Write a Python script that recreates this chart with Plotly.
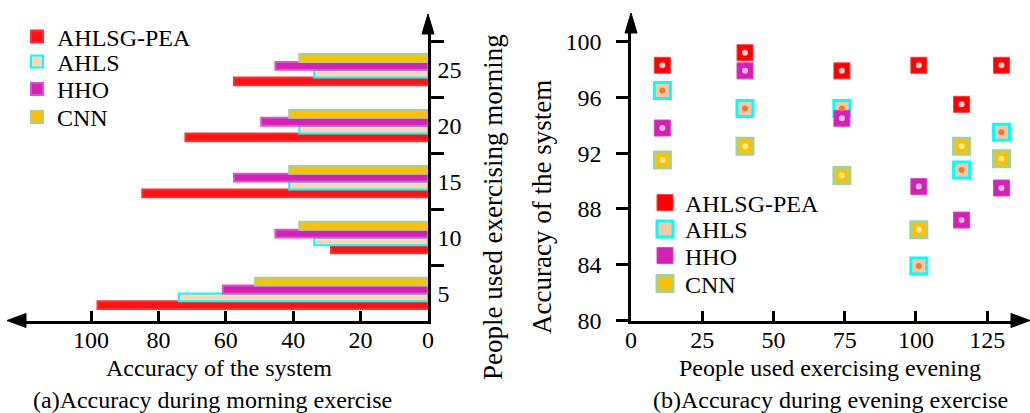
import plotly.graph_objects as go

# ---------------- data ----------------
series_names = ["AHLSG-PEA", "AHLS", "HHO", "CNN"]

# (a) morning: people groups and accuracy (%)
morning_people = [5, 10, 15, 20, 25]
morning_ahlsg_pea = [98.1, 28.8, 84.8, 72.0, 57.6]
morning_ahls = [74.0, 33.8, 41.2, 38.2, 33.8]
morning_hho = [60.9, 45.3, 57.6, 49.5, 45.3]
morning_cnn = [51.3, 38.2, 41.2, 41.2, 38.2]

# (b) evening: people and accuracy (%)
evening_people = [11, 40, 74, 101, 116, 130]
evening_ahlsg_pea = [98.3, 99.2, 97.9, 98.3, 95.5, 98.3]
evening_ahls = [96.5, 95.2, 95.2, 83.9, 90.8, 93.5]
evening_hho = [93.8, 97.9, 94.5, 89.6, 87.2, 89.5]
evening_cnn = [91.5, 92.5, 90.4, 86.5, 92.5, 91.6]

morning_x_ticks = [0, 20, 40, 60, 80, 100]
evening_x_ticks = [0, 25, 50, 75, 100, 125]
evening_y_ticks = [80, 84, 88, 92, 96, 100]

# ---------------- style ----------------
W, H = 1030, 413
FONT = "Liberation Serif"
FS = 24
FS_V = 27  # vertical titles appear stretched in the reference

def px(x, y):
    return x / W, (H - y) / H

bar_styles = {
    "AHLSG-PEA": dict(fill="#f81414", line="#ff3030"),
    "AHLS": dict(fill="#fbd6b8", line="#00ffff"),
    "HHO": dict(fill="#d321b5", line="#e050cc"),
    "CNN": dict(fill="#ffc000", line="#a9d18e"),
}
mk_styles = {
    "AHLSG-PEA": dict(fill="#ff0000", line="#ff3a3a", lw=1, center="#ffe0e0"),
    "AHLS": dict(fill="#f8c8a4", line="#00ffff", lw=3, center="#e8732a"),
    "HHO": dict(fill="#d321b5", line="#d840c0", lw=1, center="#f2c8ea"),
    "CNN": dict(fill="#ffc000", line="#a9d18e", lw=3, center="#fff2a8"),
}

# legend placement (pixel): text start x, centre y of each entry
left_leg_x, left_leg_y = 57, [37, 62, 89.5, 117.5]
right_leg_x, right_leg_y = 685, [203, 229.5, 256, 284]

fig = go.Figure()

morning_vals = [morning_ahlsg_pea, morning_ahls, morning_hho, morning_cnn]
for i, (name, vals) in enumerate(zip(series_names, morning_vals)):
    st = bar_styles[name]
    fig.add_trace(go.Bar(
        y=morning_people, x=vals, orientation="h", name=name,
        marker=dict(color=st["fill"], line=dict(color=st["line"], width=2)),
        xaxis="x", yaxis="y", legend="legend" if i == 0 else f"legend{i + 1}",
    ))

evening_vals = [evening_ahlsg_pea, evening_ahls, evening_hho, evening_cnn]
for i, (name, vals) in enumerate(zip(series_names, evening_vals)):
    st = mk_styles[name]
    fig.add_trace(go.Scatter(
        x=evening_people, y=vals, mode="markers", name=name,
        marker=dict(symbol="square", size=16, color=st["fill"],
                    line=dict(color=st["line"], width=st["lw"])),
        xaxis="x2", yaxis="y2", legend=f"legend{i + 5}",
    ))
for name, vals in zip(series_names, evening_vals):
    st = mk_styles[name]
    fig.add_trace(go.Scatter(
        x=evening_people, y=vals, mode="markers", showlegend=False,
        hoverinfo="skip",
        marker=dict(symbol="circle", size=6, color=st["center"], opacity=0.9,
                    line=dict(width=0)),
        xaxis="x2", yaxis="y2",
    ))

axis_common = dict(showline=True, linecolor="black", linewidth=2.5,
                   showgrid=False, zeroline=False, automargin=False,
                   tickfont=dict(family=FONT, size=FS, color="black"),
                   tickcolor="black", tickwidth=2.5)

fig.update_layout(
    width=W, height=H, margin=dict(l=0, r=0, t=0, b=0, autoexpand=False),
    paper_bgcolor="white", plot_bgcolor="white",
    font=dict(family=FONT, size=FS, color="black"),
    barmode="group", bargap=0.44, bargroupgap=0,
    xaxis=dict(axis_common, domain=[20 / W, 428 / W], range=[121.1, 0],
               tickvals=morning_x_ticks, ticks="inside", ticklen=10,
               ticklabelstandoff=-4, anchor="y"),
    yaxis=dict(axis_common, domain=[(H - 320.5) / H, (H - 30) / H],
               range=[2.58, 28.55], side="right", anchor="x",
               tickvals=morning_people, ticks="", ticklabelstandoff=2,
               minor=dict(tickvals=[7.5, 12.5, 17.5, 22.5, 27.5],
                          ticks="outside", ticklen=13, tickwidth=2.5,
                          tickcolor="black")),
    xaxis2=dict(axis_common, domain=[631 / W, 1020 / W], range=[0, 136.5],
                tickvals=evening_x_ticks, ticks="inside", ticklen=10,
                ticklabelstandoff=-4, anchor="y2"),
    yaxis2=dict(axis_common, domain=[(H - 320.5) / H, (H - 30) / H],
                range=[80, 100.83], anchor="x2",
                tickvals=evening_y_ticks, ticks="outside", ticklen=12,
                ticklabelstandoff=10),
    showlegend=True,
)

leg_common = dict(xanchor="left", yanchor="middle", bgcolor="rgba(0,0,0,0)",
                  font=dict(family=FONT, size=FS), itemclick=False,
                  borderwidth=0)
legends = {}
for i in range(4):
    key = "legend" if i == 0 else f"legend{i + 1}"
    lx, ly = px(left_leg_x - 40, left_leg_y[i])
    legends[key] = dict(leg_common, x=lx, y=ly)
    rx, ry = px(right_leg_x - 40, right_leg_y[i])
    legends[f"legend{i + 5}"] = dict(leg_common, x=rx, y=ry)
fig.update_layout(**legends)

# axis titles and captions (pixel centre positions)
texts = [
    ("Accuracy of the system", 219, 368, 0, FS),
    ("People used exercising evening", 830, 368, 0, FS),
    ("People used exercising morning", 493, 207, -90, FS_V),
    ("Accuracy of the system", 542, 207, -90, FS_V),
    ("(a)Accuracy during morning exercise", 212, 400, 0, FS),
    ("(b)Accuracy during evening exercise", 830, 400, 0, FS),
]
for t, x, y, ang, fs in texts:
    ax, ay = px(x, y)
    fig.add_annotation(text=t, xref="paper", yref="paper", x=ax, y=ay,
                       showarrow=False, textangle=ang,
                       font=dict(family=FONT, size=fs, color="black"),
                       xanchor="center", yanchor="middle")

# arrowheads
def tri(p1, p2, p3):
    a, b, c = px(*p1), px(*p2), px(*p3)
    return f"M {a[0]} {a[1]} L {b[0]} {b[1]} L {c[0]} {c[1]} Z"

for pts in [((428, 14), (422, 34), (434, 34)),
            ((7, 320.5), (26, 313.5), (26, 327.5)),
            ((631, 13), (625, 33), (637, 33)),
            ((1030, 320.5), (1011, 313.5), (1011, 327.5))]:
    fig.add_shape(type="path", path=tri(*pts), xref="paper", yref="paper",
                  fillcolor="black", line=dict(color="black", width=1))

fig.write_html("out.html", config={"displayModeBar": False},
               post_script="document.body.style.margin='0';document.body.style.overflow='hidden';")
